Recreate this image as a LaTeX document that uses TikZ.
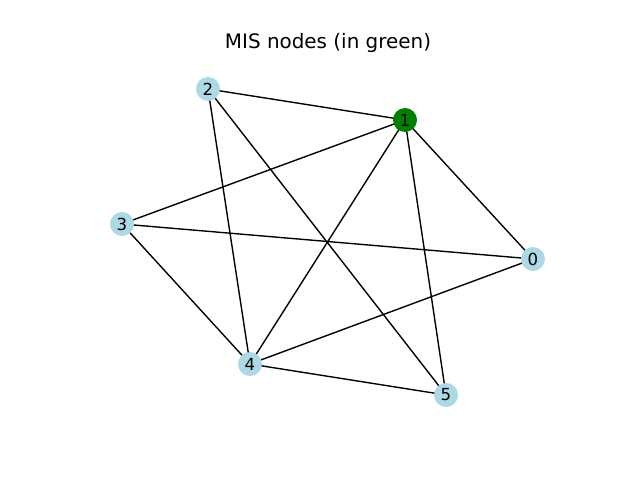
\documentclass[tikz,border=0pt]{standalone}
\usepackage{fontspec}
\setmainfont{DejaVu Sans}
\usetikzlibrary{positioning}

\begin{document}
\begin{tikzpicture}[x=0.0254cm,y=-0.0254cm,semithick]
    \tikzstyle{every node}=[font=\fontsize{12}{14}\selectfont]
    \tikzstyle{vertex}=[circle,fill=lightblue,inner sep=0pt,minimum size=0.6096cm]
    \tikzstyle{misvertex}=[vertex,fill=misgreen]
    \definecolor{lightblue}{HTML}{ADD8E6}
    \definecolor{misgreen}{HTML}{008000}
    \useasboundingbox (0,0) rectangle (640,480);
    \node[font=\fontsize{14.4}{17}\selectfont] (title) at (328,43) {MIS nodes (in green)};

    \path[draw,line width=1pt]
    (533,259) coordinate (c0)
    (405,120) coordinate (c1)
    (208,89) coordinate (c2)
    (122,224) coordinate (c3)
    (250,364) coordinate (c4)
    (446,395) coordinate (c5)
    (c2) -- (c1)
    (c2) -- (c4)
    (c2) -- (c5)
    (c1) -- (c3)
    (c1) -- (c0)
    (c1) -- (c4)
    (c1) -- (c5)
    (c3) -- (c0)
    (c3) -- (c4)
    (c4) -- (c0)
    (c4) -- (c5);

    \node[vertex] (n0) at (c0) {0};
    \node[misvertex] (n1) at (c1) {1};
    \node[vertex] (n2) at (c2) {2};
    \node[vertex] (n3) at (c3) {3};
    \node[vertex] (n4) at (c4) {4};
    \node[vertex] (n5) at (c5) {5};
\end{tikzpicture}
\end{document}
